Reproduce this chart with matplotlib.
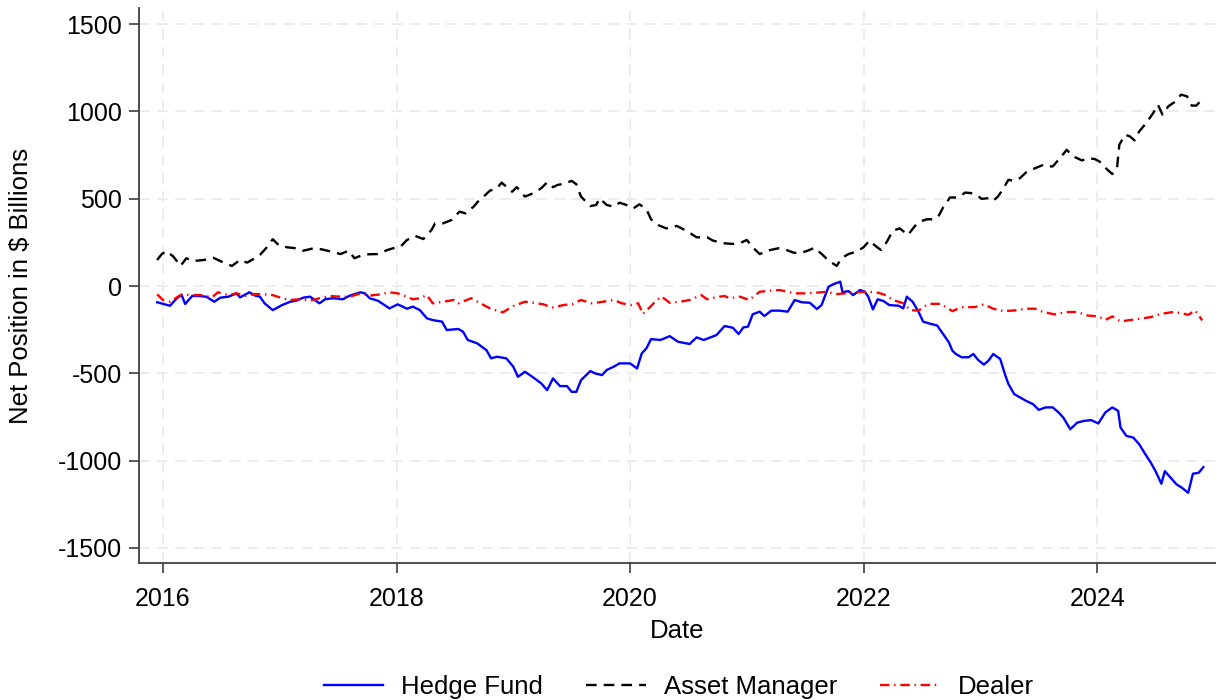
import matplotlib
matplotlib.use("Agg")
import matplotlib.pyplot as plt

plt.rcParams["font.family"] = ["Liberation Sans", "DejaVu Sans"]
plt.rcParams["axes.unicode_minus"] = False

# decimal-year dates and net positions ($bn)
hf_dates = [
    2015.95, 2016.06, 2016.12, 2016.16, 2016.19, 2016.25, 2016.30, 2016.37, 2016.44, 2016.49,
    2016.56, 2016.63, 2016.66, 2016.74, 2016.79, 2016.83, 2016.87, 2016.94, 2017.02, 2017.09,
    2017.14, 2017.20, 2017.26, 2017.34, 2017.39, 2017.46, 2017.54, 2017.60, 2017.69, 2017.73,
    2017.77, 2017.84, 2017.94, 2018.01, 2018.09, 2018.14, 2018.20, 2018.26, 2018.31, 2018.39,
    2018.43, 2018.53, 2018.57, 2018.61, 2018.69, 2018.77, 2018.81, 2018.86, 2018.94, 2019.00,
    2019.04, 2019.10, 2019.17, 2019.24, 2019.29, 2019.34, 2019.40, 2019.46, 2019.50, 2019.54,
    2019.58, 2019.66, 2019.70, 2019.76, 2019.80, 2019.86, 2019.91, 2020.00, 2020.06, 2020.10,
    2020.14, 2020.18, 2020.26, 2020.34, 2020.41, 2020.51, 2020.57, 2020.63, 2020.74, 2020.81,
    2020.88, 2020.93, 2020.97, 2021.01, 2021.05, 2021.11, 2021.15, 2021.21, 2021.28, 2021.35,
    2021.41, 2021.47, 2021.54, 2021.60, 2021.64, 2021.70, 2021.74, 2021.80, 2021.82, 2021.87,
    2021.91, 2021.97, 2022.01, 2022.04, 2022.08, 2022.12, 2022.17, 2022.22, 2022.30, 2022.34,
    2022.37, 2022.42, 2022.47, 2022.51, 2022.57, 2022.63, 2022.66, 2022.73, 2022.76, 2022.79,
    2022.84, 2022.90, 2022.94, 2022.98, 2023.03, 2023.07, 2023.11, 2023.17, 2023.21, 2023.24,
    2023.29, 2023.34, 2023.39, 2023.45, 2023.50, 2023.56, 2023.62, 2023.67, 2023.71, 2023.77,
    2023.83, 2023.89, 2023.95, 2024.01, 2024.07, 2024.13, 2024.18, 2024.20, 2024.25, 2024.31,
    2024.36, 2024.41, 2024.46, 2024.50, 2024.55, 2024.58, 2024.63, 2024.68, 2024.72, 2024.78,
    2024.82, 2024.87, 2024.91,
]
hedge_fund = [
    -93, -113, -69, -52, -103, -57, -57, -61, -90, -67,
    -61, -42, -65, -36, -55, -61, -99, -138, -109, -90,
    -84, -67, -61, -99, -75, -70, -76, -55, -36, -42,
    -70, -84, -128, -105, -130, -118, -138, -185, -195, -204,
    -252, -246, -262, -309, -328, -367, -414, -405, -414, -462,
    -520, -491, -523, -558, -596, -529, -573, -573, -606, -606,
    -539, -487, -500, -510, -481, -462, -443, -443, -472, -386,
    -357, -304, -309, -287, -319, -332, -294, -309, -281, -229,
    -239, -275, -237, -233, -162, -147, -172, -141, -141, -147,
    -80, -93, -96, -132, -109, -4, 10, 25, -36, -29,
    -52, -23, -33, -61, -134, -76, -86, -109, -113, -128,
    -61, -90, -147, -204, -216, -226, -255, -322, -370, -389,
    -408, -408, -389, -423, -450, -427, -389, -418, -504, -561,
    -619, -638, -657, -676, -709, -695, -695, -724, -753, -820,
    -782, -772, -768, -787, -724, -695, -715, -810, -858, -868,
    -906, -960, -1012, -1060, -1132, -1060, -1098, -1136, -1152, -1184,
    -1075, -1069, -1037,
]

am_dates = [
    2015.95, 2015.99, 2016.03, 2016.09, 2016.15, 2016.20, 2016.26, 2016.35, 2016.43, 2016.52,
    2016.59, 2016.66, 2016.72, 2016.77, 2016.83, 2016.89, 2016.94, 2016.99, 2017.06, 2017.14,
    2017.20, 2017.29, 2017.36, 2017.44, 2017.52, 2017.59, 2017.64, 2017.71, 2017.77, 2017.84,
    2017.92, 2018.00, 2018.04, 2018.09, 2018.16, 2018.23, 2018.30, 2018.33, 2018.40, 2018.47,
    2018.54, 2018.59, 2018.66, 2018.71, 2018.76, 2018.80, 2018.86, 2018.90, 2018.94, 2018.99,
    2019.03, 2019.10, 2019.17, 2019.24, 2019.29, 2019.34, 2019.38, 2019.43, 2019.50, 2019.54,
    2019.58, 2019.66, 2019.71, 2019.74, 2019.80, 2019.86, 2019.91, 2019.97, 2020.03, 2020.08,
    2020.14, 2020.18, 2020.24, 2020.31, 2020.40, 2020.48, 2020.57, 2020.66, 2020.71, 2020.80,
    2020.88, 2020.95, 2021.00, 2021.05, 2021.11, 2021.20, 2021.27, 2021.34, 2021.40, 2021.45,
    2021.52, 2021.58, 2021.65, 2021.70, 2021.77, 2021.81, 2021.87, 2021.94, 2022.00, 2022.05,
    2022.11, 2022.15, 2022.20, 2022.25, 2022.31, 2022.38, 2022.44, 2022.48, 2022.54, 2022.60,
    2022.64, 2022.68, 2022.74, 2022.81, 2022.87, 2022.92, 2022.98, 2023.01, 2023.07, 2023.11,
    2023.15, 2023.19, 2023.24, 2023.29, 2023.34, 2023.39, 2023.47, 2023.54, 2023.58, 2023.62,
    2023.67, 2023.74, 2023.78, 2023.81, 2023.87, 2023.92, 2023.98, 2024.02, 2024.08, 2024.13,
    2024.17, 2024.18, 2024.19, 2024.24, 2024.28, 2024.32, 2024.36, 2024.42, 2024.48, 2024.52,
    2024.56, 2024.61, 2024.66, 2024.72, 2024.77, 2024.81, 2024.85, 2024.89,
]
asset_manager = [
    149, 183, 200, 168, 115, 159, 143, 149, 162, 134,
    115, 149, 134, 153, 178, 222, 268, 235, 222, 216,
    202, 216, 210, 197, 183, 202, 159, 178, 182, 183,
    206, 222, 229, 264, 287, 269, 321, 359, 359, 378,
    426, 416, 454, 493, 521, 546, 560, 592, 569, 540,
    566, 512, 531, 560, 594, 566, 579, 585, 602, 583,
    512, 458, 464, 502, 464, 454, 477, 464, 445, 468,
    439, 382, 349, 330, 344, 317, 279, 279, 260, 245,
    241, 248, 264, 222, 183, 206, 216, 206, 191, 187,
    202, 219, 178, 145, 115, 159, 183, 197, 222, 260,
    225, 206, 254, 317, 330, 292, 344, 368, 382, 382,
    398, 449, 507, 507, 535, 532, 516, 499, 503, 488,
    512, 551, 608, 602, 618, 650, 675, 694, 685, 685,
    723, 780, 751, 738, 719, 732, 727, 713, 671, 641,
    675, 742, 809, 866, 857, 834, 885, 933, 990, 1038,
    981, 1029, 1052, 1096, 1086, 1033, 1033, 1063,
]

dealer_dates = [
    2015.95, 2016.00, 2016.06, 2016.16, 2016.23, 2016.32, 2016.42, 2016.47, 2016.56, 2016.63,
    2016.70, 2016.79, 2016.87, 2016.94, 2017.02, 2017.09, 2017.17, 2017.26, 2017.34, 2017.43,
    2017.52, 2017.60, 2017.69, 2017.77, 2017.86, 2017.94, 2018.01, 2018.09, 2018.14, 2018.20,
    2018.26, 2018.31, 2018.40, 2018.49, 2018.53, 2018.64, 2018.71, 2018.80, 2018.86, 2018.91,
    2019.00, 2019.10, 2019.17, 2019.26, 2019.33, 2019.43, 2019.51, 2019.58, 2019.67, 2019.74,
    2019.86, 2019.93, 2020.01, 2020.07, 2020.11, 2020.16, 2020.23, 2020.27, 2020.34, 2020.43,
    2020.51, 2020.61, 2020.66, 2020.73, 2020.81, 2020.85, 2020.94, 2021.02, 2021.11, 2021.20,
    2021.28, 2021.35, 2021.41, 2021.51, 2021.60, 2021.68, 2021.77, 2021.85, 2021.94, 2022.02,
    2022.11, 2022.19, 2022.25, 2022.34, 2022.40, 2022.47, 2022.54, 2022.57, 2022.66, 2022.76,
    2022.84, 2022.95, 2023.03, 2023.11, 2023.20, 2023.29, 2023.39, 2023.47, 2023.54, 2023.64,
    2023.73, 2023.83, 2023.92, 2024.01, 2024.07, 2024.13, 2024.20, 2024.26, 2024.36, 2024.46,
    2024.55, 2024.65, 2024.72, 2024.78, 2024.84, 2024.90,
]
dealer = [
    -48, -80, -90, -48, -52, -52, -65, -36, -52, -42,
    -57, -46, -48, -52, -70, -80, -76, -84, -70, -57,
    -61, -61, -42, -55, -48, -36, -42, -61, -76, -70,
    -52, -99, -90, -80, -99, -70, -96, -128, -141, -151,
    -115, -90, -96, -105, -124, -109, -103, -80, -99, -93,
    -80, -99, -109, -99, -160, -128, -80, -61, -96, -90,
    -80, -52, -76, -65, -57, -70, -61, -80, -33, -27,
    -23, -33, -42, -42, -38, -33, -46, -42, -36, -33,
    -36, -52, -80, -99, -138, -141, -109, -102, -102, -144,
    -121, -121, -105, -130, -144, -140, -130, -130, -149, -163,
    -149, -149, -169, -174, -194, -174, -203, -197, -188, -178,
    -159, -149, -155, -165, -140, -197,
]

x_ticks = [2016, 2018, 2020, 2022, 2024]
y_ticks = [-1500, -1000, -500, 0, 500, 1000, 1500]

fig = plt.figure(figsize=(12.25, 7), dpi=100)
ax = fig.add_axes([0.1135, 0.1957, 0.8784, 0.7929])

hf_line, = ax.plot(hf_dates, hedge_fund, color="#0000ff", lw=1.7, label="Hedge Fund")
am_line, = ax.plot(am_dates, asset_manager, color="black", lw=1.7,
                   dashes=(4.5, 3), label="Asset Manager")
dl_line, = ax.plot(dealer_dates, dealer, color="#ff0000", lw=1.7,
                   dashes=(4, 2, 0.6, 2), label="Dealer")

ax.set_xlim(2015.795, 2025.01)
ax.set_ylim(-1586, 1592)
ax.set_xticks(x_ticks)
ax.set_yticks(y_ticks)
ax.grid(True, color="#ebebeb", lw=1.3, dashes=(6, 4))
ax.set_axisbelow(True)
for side in ("top", "right"):
    ax.spines[side].set_visible(False)
for side in ("left", "bottom"):
    ax.spines[side].set_color("#404040")
    ax.spines[side].set_linewidth(1.3)
ax.tick_params(axis="both", labelsize=18, length=7, width=1.2, color="#404040", pad=5)
ax.tick_params(axis="x", pad=10)
ax.set_xlabel("Date", fontsize=18.5, labelpad=6)
ax.set_ylabel("Net Position in \\$ Billions", fontsize=18.5, labelpad=18)

fig.legend(handles=[hf_line, am_line, dl_line], loc="lower center",
           bbox_to_anchor=(0.554, -0.031), ncol=3, frameon=False, fontsize=18.5,
           handlelength=2.3, handletextpad=0.7, columnspacing=1.7)

fig.savefig("out.png", dpi=100)
